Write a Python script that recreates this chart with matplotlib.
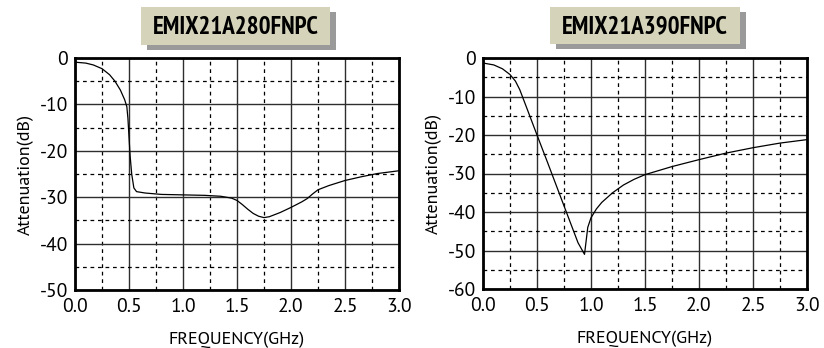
import matplotlib
matplotlib.use("Agg")
import matplotlib.pyplot as plt
from matplotlib.patches import Rectangle
from matplotlib.ticker import MultipleLocator

titles = ["EMIX21A280FNPC", "EMIX21A390FNPC"]

freq_a = [0.00, 0.10, 0.17, 0.25, 0.32, 0.37, 0.42, 0.46, 0.48, 0.49, 0.50, 0.51,
          0.525, 0.545, 0.57, 0.65, 0.80, 1.00, 1.20, 1.35, 1.45, 1.50, 1.55, 1.60,
          1.65, 1.70, 1.75, 1.80, 1.90, 2.00, 2.10, 2.15, 2.20, 2.25, 2.35, 2.50,
          2.65, 2.80, 3.00]
att_a = [-0.9, -1.1, -1.5, -2.3, -3.6, -5.0, -6.9, -9.0, -10.5, -13.0, -17.0, -21.0,
         -25.0, -28.0, -28.8, -29.1, -29.4, -29.5, -29.6, -29.8, -30.2, -30.7, -31.6, -32.6,
         -33.5, -34.1, -34.4, -34.2, -33.3, -32.2, -31.0, -30.3, -29.3, -28.4, -27.5, -26.4,
         -25.6, -24.9, -24.3]

freq_b = [0.00, 0.10, 0.18, 0.25, 0.30, 0.34, 0.40, 0.50, 0.60, 0.70, 0.80, 0.88,
          0.94, 0.955, 0.97, 1.00, 1.05, 1.10, 1.20, 1.30, 1.40, 1.50, 1.75, 2.00,
          2.25, 2.50, 2.75, 3.00]
att_b = [-1.3, -1.8, -2.8, -4.3, -6.0, -8.2, -12.6, -20.0, -27.3, -34.7, -42.1, -48.0,
         -51.0, -47.5, -44.0, -41.5, -39.2, -37.5, -35.0, -33.0, -31.5, -30.3, -28.2, -26.4,
         -24.7, -23.3, -22.1, -21.2]

xticks = [0.0, 0.5, 1.0, 1.5, 2.0, 2.5, 3.0]
ylims = [(-50, 0), (-60, 0)]
xlabel = "FREQUENCY(GHz)"
ylabel = "Attenuation(dB)"

W, H = 824, 348
fig = plt.figure(figsize=(W / 100, H / 100), dpi=100)

def fx(px):
    return px / W

def fy(py):
    return 1 - py / H

tick_font = dict(family=["PT Sans", "DejaVu Sans"], size=14)
label_font = dict(family=["PT Sans", "DejaVu Sans"], size=13)

axes_px = [(75, 58, 399, 290), (483, 58, 807, 289)]
boxes_px = [(141, 7, 330, 45), (550, 7, 740, 44)]
datasets = [(freq_a, att_a), (freq_b, att_b)]

for i in range(2):
    x0, y0, x1, y1 = axes_px[i]
    ax = fig.add_axes([fx(x0), fy(y1), fx(x1) - fx(x0), fy(y0) - fy(y1)])
    f, a = datasets[i]
    ax.plot(f, a, color="black", lw=0.9, zorder=3)
    ax.set_xlim(0, 3.0)
    ax.set_ylim(*ylims[i])
    ax.xaxis.set_minor_locator(MultipleLocator(0.25))
    ax.yaxis.set_minor_locator(MultipleLocator(5))
    ax.set_xticks(xticks)
    ax.set_xticklabels([f"{v:.1f}" for v in xticks], **tick_font)
    yt = list(range(ylims[i][0], 1, 10))
    ax.set_yticks(yt)
    ax.set_yticklabels([str(v) for v in yt], **tick_font)
    ax.grid(which="major", color="#2e2e2e", lw=1.0, ls="-")
    ax.grid(which="minor", color="black", lw=0.9, ls=(0, (3, 3)))
    ax.set_axisbelow(True)
    ax.tick_params(which="both", length=0)
    ax.tick_params(axis="y", pad=5)
    ax.tick_params(axis="x", pad=6)
    for s in ax.spines.values():
        s.set_linewidth(2.0)
        s.set_color("black")
    ax.set_xlabel(xlabel, labelpad=11, **label_font)
    ax.set_ylabel(ylabel, labelpad=4, **label_font)

    bx0, by0, bx1, by1 = boxes_px[i]
    sh = Rectangle((fx(bx0 + 6), fy(by1 + 5)), fx(bx1 - bx0), fy(by0) - fy(by1),
                   transform=fig.transFigure, facecolor="#9a9a9a", edgecolor="none")
    bx = Rectangle((fx(bx0), fy(by1)), fx(bx1 - bx0), fy(by0) - fy(by1),
                   transform=fig.transFigure, facecolor="#d5d4bb", edgecolor="none")
    fig.patches.extend([sh, bx])
    fig.text(fx((bx0 + bx1) / 2), fy((by0 + by1) / 2 + 1), titles[i],
             ha="center", va="center", fontsize=18, fontweight="bold",
             family=["PT Sans Narrow", "DejaVu Sans"], color="black")

fig.savefig("out.png", dpi=100)
